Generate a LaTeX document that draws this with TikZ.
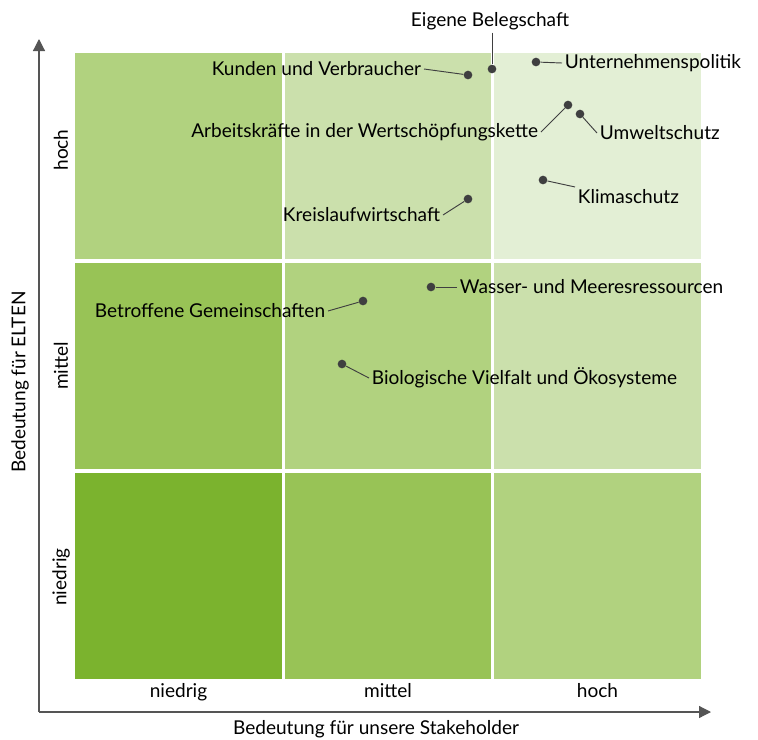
\documentclass[tikz,border=0pt]{standalone}
\usepackage{fontspec}
\setmainfont{Lato}
\usetikzlibrary{positioning}
\usetikzlibrary{arrows.meta}
\definecolor{lvlA}{HTML}{7BB32E}
\definecolor{lvlB}{HTML}{98C356}
\definecolor{lvlC}{HTML}{B1D27F}
\definecolor{lvlD}{HTML}{CBE0AC}
\definecolor{lvlE}{HTML}{E3EFD5}
\definecolor{dotgray}{HTML}{3F3F40}
\definecolor{axisgray}{HTML}{555555}
\tikzset{
  cell/.style   = {rectangle, inner sep=0pt,
                   minimum width=155pt, minimum height=155pt},
  topic/.style  = {font=\fontsize{14.3}{16}\selectfont, inner sep=2pt, text=black},
  tick/.style   = {topic},
  point/.style  = {circle, fill=dotgray, inner sep=0pt, minimum size=6.5pt},
  lead/.style   = {draw=dotgray, line width=0.7pt},
  axis/.style   = {draw=axisgray, line width=0.9pt,
                   -{Triangle[length=9pt,width=9pt]}}
}
\begin{document}
\begin{tikzpicture}[x=0.75pt, y=-0.75pt]
  \useasboundingbox (0,0) rectangle (758,740);
  % matrix cells, colour by level
  \foreach \i in {0,1,2} {
    \foreach \j in {0,1,2} {
      \pgfmathtruncatemacro{\lvl}{\i+\j}
      \ifcase\lvl \def\cellcol{lvlA}\or \def\cellcol{lvlB}\or \def\cellcol{lvlC}\or
        \def\cellcol{lvlD}\else \def\cellcol{lvlE}\fi
      \node [cell, fill=\cellcol] (c-\i-\j) at (178.5+209.5*\i, 576-210*\j) {};
    }
  }
  % axes
  \coordinate (orig) at (39,712);
  \coordinate (xend) at (711,712);
  \coordinate (yend) at (39,39);
  \draw [axis] (orig) -- (xend);
  \draw [axis] (orig) -- (yend);
  \node [tick, below=1pt of c-0-0] (xlow) {niedrig};
  \node [tick, below=1pt of c-1-0] (xmid) {mittel};
  \node [tick, below=1pt of c-2-0] (xhigh) {hoch};
  \node [tick, rotate=90] (ylow) at (61,577) {niedrig};
  \node [tick, rotate=90] (ymid) at (61,366) {mittel};
  \node [tick, rotate=90] (yhigh) at (61,150) {hoch};
  \node [tick] (xtitle) at (376,729) {Bedeutung für unsere Stakeholder};
  \node [tick, rotate=90] (ytitle) at (20,382) {Bedeutung für ELTEN};
  % topics
  \node [point] (beleg) at (492,69) {};
  \node [point] (kunden) at (468,75) {};
  \node [point] (politik) at (536,62) {};
  \node [point] (arbeit) at (568,105) {};
  \node [point] (umwelt) at (580,114) {};
  \node [point] (klima) at (543,180) {};
  \node [point] (kreis) at (468,199) {};
  \node [point] (wasser) at (431,287) {};
  \node [point] (gemein) at (363,301) {};
  \node [point] (bio) at (342,364) {};
  \node [topic] (beleg-l) at (490,21) {Eigene Belegschaft};
  \node [topic, anchor=east] (kunden-l) at (424,69) {Kunden und Verbraucher};
  \node [topic, anchor=west] (politik-l) at (562,63) {Unternehmenspolitik};
  \node [topic, anchor=east] (arbeit-l) at (541,132) {Arbeitskräfte in der Wertschöpfungskette};
  \node [topic, anchor=west] (umwelt-l) at (597,133) {Umweltschutz};
  \node [topic, anchor=west] (klima-l) at (575,197) {Klimaschutz};
  \node [topic, anchor=east] (kreis-l) at (443,215) {Kreislaufwirtschaft};
  \node [topic, anchor=west] (wasser-l) at (457,287) {Wasser- und Meeresressourcen};
  \node [topic, anchor=east] (gemein-l) at (328,311) {Betroffene Gemeinschaften};
  \node [topic, anchor=west] (bio-l) at (369,378) {Biologische Vielfalt und Ökosysteme};
  \draw [lead] (beleg-l.south -| beleg) -- (beleg);
  \draw [lead] (kunden-l.east) -- (kunden);
  \draw [lead] (politik-l.west) -- (politik);
  \draw [lead] (arbeit-l.east) -- (arbeit);
  \draw [lead] (umwelt-l.west) -- (umwelt);
  \draw [lead] (klima-l.north west) -- (klima);
  \draw [lead] (kreis-l.east) -- (kreis);
  \draw [lead] (wasser-l.west) -- (wasser);
  \draw [lead] (gemein-l.east) -- (gemein);
  \draw [lead] (bio-l.west) -- (bio);
\end{tikzpicture}
\end{document}
